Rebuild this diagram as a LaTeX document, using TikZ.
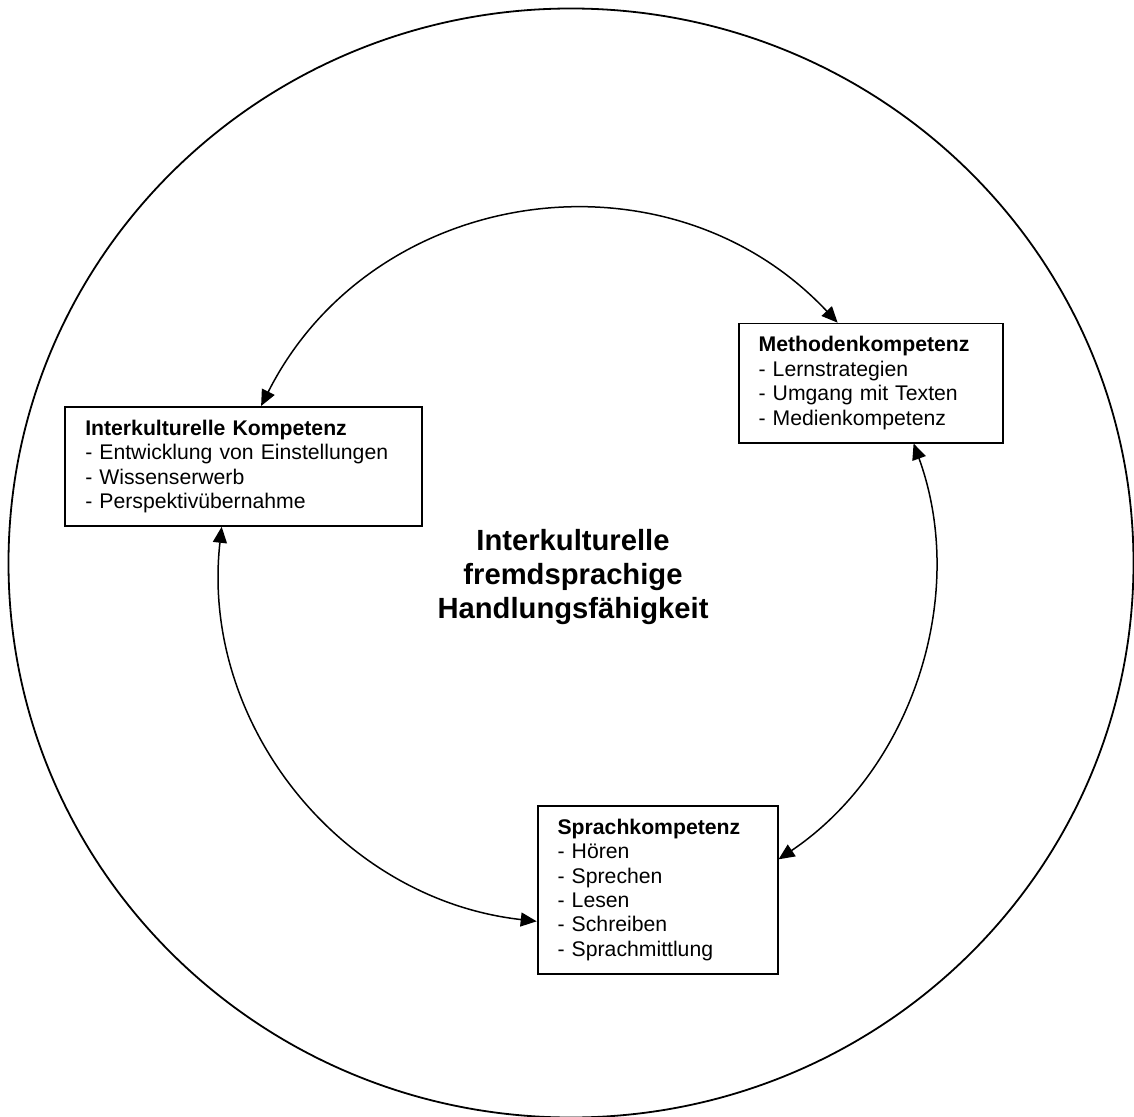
\documentclass[tikz,border=0pt]{standalone}
\usepackage{fontspec}
\setmainfont{Liberation Sans}
\usetikzlibrary{arrows.meta,calc}

\begin{document}
\begin{tikzpicture}[x=0.5pt, y=-0.5pt,
  kbox/.style={draw, line width=0.9pt, anchor=north west, align=left,
    inner xsep=10pt, inner ysep=0pt, font=\fontsize{10.6}{12.2}\selectfont},
  link/.style={{Triangle[length=8pt,width=7pt]}-{Triangle[length=8pt,width=7pt]},
    line width=0.75pt}]
  \useasboundingbox (0,0) rectangle (1134,1117);
  % outer ring
  \draw[line width=0.9pt] (571,563) ellipse [x radius=562.5, y radius=554.5];
  % the three competences
  \node[kbox, text width=158.25pt, minimum height=59.5pt] (ik) at (64.4,406)
    {\textbf{Interkulturelle Kompetenz}\\- Entwicklung von Einstellungen\\- Wissenserwerb\\- Perspektivübernahme};
  \node[kbox, text width=112.35pt, minimum height=59.5pt] (mk) at (737.7,322.7)
    {\textbf{Methodenkompetenz}\\- Lernstrategien\\- Umgang mit Texten\\- Medienkompetenz};
  \node[kbox, text width=100pt, minimum height=84pt] (sk) at (536.7,805)
    {\textbf{Sprachkompetenz}\\- Hören\\- Sprechen\\- Lesen\\- Schreiben\\- Sprachmittlung};
  \node[font=\fontsize{14.6}{17.2}\selectfont\bfseries, align=center] (ziel) at (573,577)
    {Interkulturelle\\fremdsprachige\\Handlungsfähigkeit};
  % inner cycle
  \draw[link] ($(ik.north west)!0.549!(ik.north east)$) to[bend left=55, looseness=1.09]
    ($(mk.north west)!0.375!(mk.north east)$);
  \draw[link] ($(ik.south west)!0.439!(ik.south east)$) to[bend right=45]
    ($(sk.north west)!0.685!(sk.south west)$);
  \draw[link] ($(mk.south west)!0.66!(mk.south east)$) to[bend left=38, looseness=0.945]
    ($(sk.north east)!0.32!(sk.south east)$);
\end{tikzpicture}
\end{document}
